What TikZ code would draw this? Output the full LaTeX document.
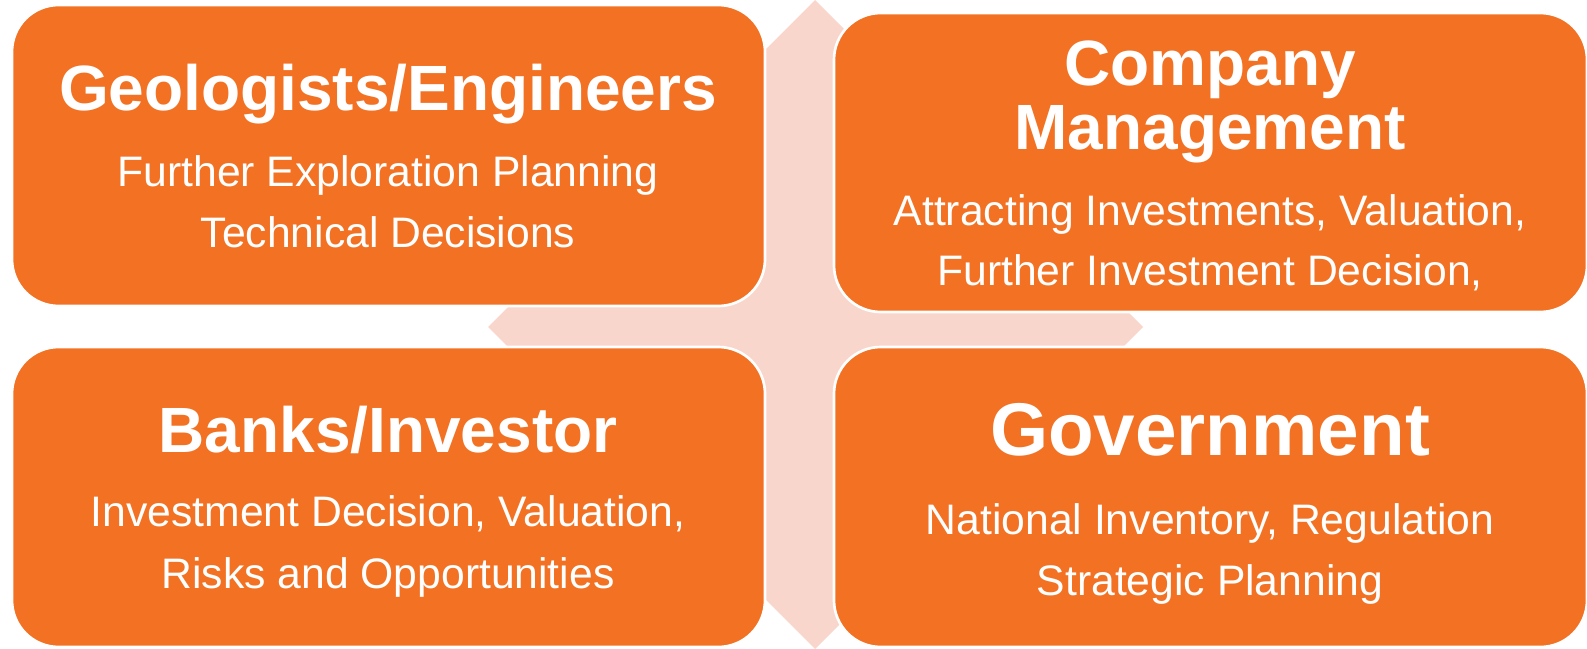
\documentclass[tikz,border=0pt]{standalone}
\usepackage{fontspec}
\setmainfont{Liberation Sans}
\usepackage{xcolor}
\usepackage{tikz}
\usetikzlibrary{positioning}

\definecolor{boxorange}{RGB}{243,113,34}
\definecolor{crosspink}{RGB}{249,214,204}

\tikzset{
  panel/.style={draw=white, line width=2pt, fill=boxorange, rounded corners=35pt},
  headtext/.style={anchor=base, inner sep=0pt, text=white, font=\fontsize{48}{56}\selectfont\bfseries},
  bigheadtext/.style={headtext, font=\fontsize{56}{64}\selectfont\bfseries},
  bodytext/.style={anchor=base, inner sep=0pt, text=white, font=\fontsize{32}{40}\selectfont},
}

\begin{document}
\begin{tikzpicture}[x=0.75pt,y=0.75pt,yscale=-1,xscale=1]
  \useasboundingbox (0,0) rectangle (1587,649);

  %Shape: Quad Arrow
  \fill [crosspink] (815,0) -- (875,60) -- (875,267) -- (1083,267) -- (1143,327) -- (1083,387) -- (875,387) -- (875,589) -- (815,649) -- (755,589) -- (755,387) -- (548,387) -- (488,327) -- (548,267) -- (755,267) -- (755,60) -- cycle ;

  %Rounded Rect
  \draw [panel] (12,5) rectangle (765,306) ;
  %Rounded Rect
  \draw [panel] (834,13) rectangle (1587,312) ;
  %Rounded Rect
  \draw [panel] (12,347) rectangle (765,647) ;
  %Rounded Rect
  \draw [panel] (834,347) rectangle (1587,647) ;

  % Text Node
  \node (geoTitle) [headtext] at (388,111) {Geologists/Engineers};
  % Text Node
  \node (geoLine1) [bodytext] at (388,186) {Further Exploration Planning};
  % Text Node
  \node (geoLine2) [bodytext] at (388,247) {Technical Decisions};

  % Text Node
  \node (mgmtTitle1) [headtext] at (1210,86) {Company};
  % Text Node
  \node (mgmtTitle2) [headtext] at (1210,150) {Management};
  % Text Node
  \node (mgmtLine1) [bodytext] at (1210,225) {Attracting Investments, Valuation,};
  % Text Node
  \node (mgmtLine2) [bodytext] at (1210,285) {Further Investment Decision,};

  % Text Node
  \node (bankTitle) [headtext] at (388,452) {Banks/Investor};
  % Text Node
  \node (bankLine1) [bodytext] at (388,526) {Investment Decision, Valuation,};
  % Text Node
  \node (bankLine2) [bodytext] at (388,588) {Risks and Opportunities};

  % Text Node
  \node (govTitle) [bigheadtext] at (1210,455) {Government};
  % Text Node
  \node (govLine1) [bodytext] at (1210,534) {National Inventory, Regulation};
  % Text Node
  \node (govLine2) [bodytext] at (1210,595) {Strategic Planning};

\end{tikzpicture}
\end{document}
